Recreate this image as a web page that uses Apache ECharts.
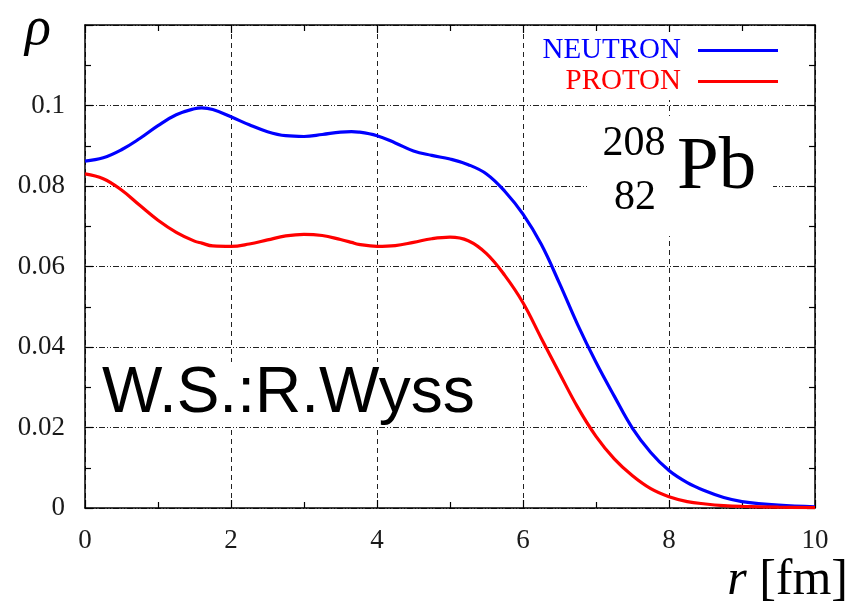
<!DOCTYPE html>
<html>
<head>
<meta charset="utf-8">
<script src="https://cdn.jsdelivr.net/npm/echarts@6/dist/echarts.min.js"></script>
<style>
  html, body { margin: 0; padding: 0; background: #fff; }
  #chart { width: 850px; height: 612px; }
</style>
</head>
<body>
<div id="chart"></div>
<script>
// Radial density profiles of 208Pb (Woods-Saxon potential, R. Wyss)
const radius = [0, 0.25, 0.5, 0.75, 1.0, 1.25, 1.5, 1.6, 1.75, 2.0, 2.25, 2.5, 2.75, 3.0, 3.25, 3.5, 3.65, 3.75,
  4.0, 4.25, 4.5, 4.75, 5.0, 5.25, 5.5, 5.75, 6.0, 6.25, 6.5, 6.75, 7.0, 7.25, 7.5, 7.75, 8.0, 8.25, 8.5,
  8.75, 9.0, 9.5, 10.0];
const neutronDensity = [0.0862, 0.0870, 0.0890, 0.0918, 0.0950, 0.0977, 0.0992, 0.0994, 0.0990, 0.0972,
  0.0952, 0.0935, 0.0925, 0.0923, 0.0928, 0.0934, 0.0935, 0.0934, 0.0925, 0.0907, 0.0887, 0.0876, 0.0867,
  0.0853, 0.0830, 0.0787, 0.0730, 0.0655, 0.0558, 0.0455, 0.0362, 0.0278, 0.0198, 0.0138, 0.0093, 0.0063,
  0.0042, 0.0026, 0.0016, 0.0007, 0.0003];
const protonDensity = [0.0830, 0.0818, 0.0790, 0.0752, 0.0715, 0.0685, 0.0663, 0.0658, 0.0651, 0.0650,
  0.0656, 0.0666, 0.0676, 0.0680, 0.0677, 0.0667, 0.0660, 0.0655, 0.0650, 0.0652, 0.0660, 0.0669, 0.0673,
  0.0664, 0.0632, 0.0578, 0.0510, 0.0422, 0.0335, 0.0250, 0.0178, 0.0122, 0.0080, 0.0048, 0.0028, 0.0016,
  0.0010, 0.0006, 0.0004, 0.0002, 0.0001];
const seriesNames = ['NEUTRON', 'PROTON'];
const xTicks = [0, 2, 4, 6, 8, 10];
const yTicks = [0, 0.02, 0.04, 0.06, 0.08, 0.1, 0.12];

const serif = '"Liberation Serif", "Times New Roman", serif';
const ink = '#1a1a1a';

const pairs = (ys) => radius.map((r, i) => [r, ys[i]]);

const chart = echarts.init(document.getElementById('chart'), null, { renderer: 'canvas' });

const frameAxis = {
  axisLine: { show: true, onZero: false, lineStyle: { color: '#000', width: 1.5 } },
  axisTick: { show: true, inside: true, length: 8, lineStyle: { color: '#000', width: 1.2 } },
  minorTick: { show: true, splitNumber: 2, length: 6, lineStyle: { color: '#000', width: 1.2 } },
  minorSplitLine: { show: false }
};

const legendBase = {
  right: 50, align: 'right', icon: 'rect',
  itemWidth: 80, itemHeight: 3, itemGap: 0,
  padding: [4, 22, 4, 12], backgroundColor: '#fff',
  textStyle: { fontFamily: serif, fontSize: 29, padding: [0, 12, 0, 0] },
  selectedMode: false, z: 10
};

const option = {
  backgroundColor: '#fff',
  animation: false,
  grid: { left: 85, right: 35, top: 25, bottom: 104, containLabel: false },
  xAxis: [
    Object.assign({
      type: 'value', position: 'bottom',
      min: xTicks[0], max: xTicks[xTicks.length - 1], interval: xTicks[1] - xTicks[0],
      splitLine: { show: true, lineStyle: { color: '#222', width: 1, type: [5, 4] } },
      axisLabel: { show: true, margin: 19, fontFamily: serif, fontSize: 27, color: ink }
    }, frameAxis),
    Object.assign({
      type: 'value', position: 'top',
      min: xTicks[0], max: xTicks[xTicks.length - 1], interval: xTicks[1] - xTicks[0],
      splitLine: { show: false }, axisLabel: { show: false }
    }, frameAxis)
  ],
  yAxis: [
    Object.assign({
      type: 'value', position: 'left',
      min: yTicks[0], max: yTicks[yTicks.length - 1], interval: yTicks[1] - yTicks[0],
      splitLine: { show: true, lineStyle: { color: '#222', width: 1, type: [6, 2, 1, 2, 1, 2] } },
      axisLabel: {
        show: true, margin: 20, fontFamily: serif, fontSize: 27, color: ink,
        formatter: (v) => (v > 0.115 ? '' : String(+v.toFixed(2)))
      }
    }, frameAxis),
    Object.assign({
      type: 'value', position: 'right',
      min: yTicks[0], max: yTicks[yTicks.length - 1], interval: yTicks[1] - yTicks[0],
      splitLine: { show: false }, axisLabel: { show: false }
    }, frameAxis)
  ],
  legend: [
    Object.assign({ data: [{ name: seriesNames[0], textStyle: { color: '#0000ff' } }], top: 32 }, legendBase),
    Object.assign({ data: [{ name: seriesNames[1], textStyle: { color: '#ff0000' } }], top: 63 }, legendBase)
  ],
  series: [
    {
      name: seriesNames[0], type: 'line', data: pairs(neutronDensity),
      smooth: 0.4, showSymbol: false, symbol: 'none',
      lineStyle: { color: '#0000ff', width: 3.2 }, itemStyle: { color: '#0000ff' }, z: 5
    },
    {
      name: seriesNames[1], type: 'line', data: pairs(protonDensity),
      smooth: 0.4, showSymbol: false, symbol: 'none',
      lineStyle: { color: '#ff0000', width: 3.2 }, itemStyle: { color: '#ff0000' }, z: 5
    }
  ],
  graphic: [
    // axis titles
    { type: 'text', z: 100, style: { text: 'ρ', x: 25, y: 30, font: 'italic 54px "Liberation Serif"', fill: '#000', verticalAlign: 'middle' } },
    {
      type: 'text', z: 100,
      style: {
        text: '{i|r} [fm]', x: 848, y: 581, align: 'right', verticalAlign: 'middle',
        font: '50px "Liberation Serif"', fill: '#000',
        rich: { i: { font: 'italic 50px "Liberation Serif"', fill: '#000' } }
      }
    },
    // nucleus label
    { type: 'rect', z: 90, shape: { x: 588, y: 116, width: 185, height: 120 }, style: { fill: '#fff' } },
    { type: 'text', z: 100, style: { text: '208', x: 634, y: 144, align: 'center', verticalAlign: 'middle', font: '42px "Liberation Serif"', fill: '#000' } },
    { type: 'text', z: 100, style: { text: '82', x: 635, y: 198, align: 'center', verticalAlign: 'middle', font: '42px "Liberation Serif"', fill: '#000' } },
    { type: 'text', z: 100, style: { text: 'Pb', x: 677, y: 168, align: 'left', verticalAlign: 'middle', font: '75px "Liberation Serif"', fill: '#000' } },
    // potential label
    { type: 'text', z: 100, style: { text: 'W.S.:R.Wyss', x: 102, y: 394, align: 'left', verticalAlign: 'middle', font: '64px "Liberation Sans"', fill: '#000', backgroundColor: '#fff' } }
  ]
};

chart.setOption(option);
</script>
</body>
</html>
